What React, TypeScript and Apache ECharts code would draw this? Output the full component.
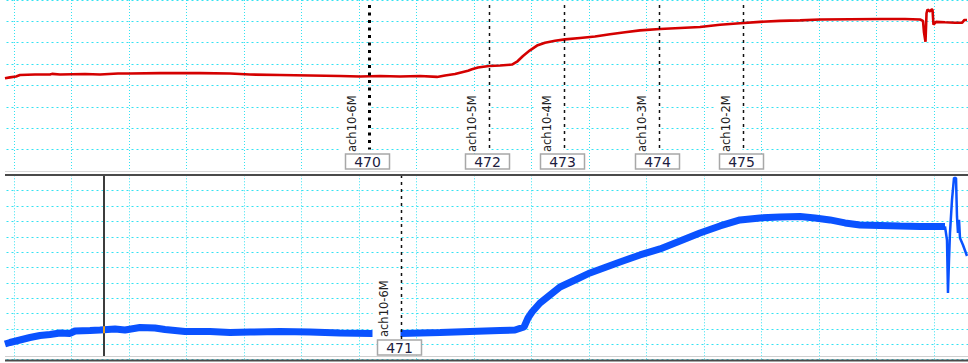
import React, { useEffect, useRef } from "react";
import * as echarts from "echarts";

// ---- data (time in grid units, values in grid units) ----
const redTimes = [
  -0.157, -0.07, 0.035, 0.104, 0.365, 0.626, 0.661, 0.8, 1.235, 1.496, 1.809, 2.017, 2.539, 3.235,
  3.757, 4.104, 4.626, 5.148, 5.67, 6.017, 6.365, 6.713, 7.061, 7.357, 7.496, 7.67, 7.791, 7.896,
  7.965, 8.07, 8.261, 8.452, 8.661, 8.748, 8.852, 8.974, 9.096, 9.235, 9.409, 9.583, 9.843, 10.104,
  10.365, 10.626, 10.887, 11.235, 11.583, 11.93, 12.278, 12.626, 12.974, 13.322, 13.67, 14.017,
  14.539, 15.061, 15.496, 15.757, 15.809, 15.826, 15.852, 15.87, 15.887, 15.93, 15.957, 15.974,
  15.991, 16.035, 16.191, 16.365, 16.487, 16.53, 16.574,
];
const redValues = [
  4.333, 4.378, 4.422, 4.489, 4.511, 4.511, 4.542, 4.511, 4.533, 4.511, 4.556, 4.556, 4.578, 4.578,
  4.556, 4.511, 4.489, 4.467, 4.444, 4.422, 4.444, 4.422, 4.444, 4.4, 4.467, 4.533, 4.622, 4.689,
  4.756, 4.844, 4.911, 4.933, 4.978, 5.111, 5.378, 5.644, 5.867, 6.0, 6.089, 6.156, 6.222, 6.289,
  6.4, 6.489, 6.578, 6.644, 6.689, 6.733, 6.844, 6.911, 6.978, 7.022, 7.044, 7.089,
  7.102, 7.111, 7.111, 7.089, 7.022, 6.489, 6.044, 7.378, 7.556, 7.467, 7.556, 7.556,
  6.844, 6.978, 6.956, 6.933, 6.933, 7.067, 7.067,
];

const blueTimes = [
  -0.157, -0.07, 0.104, 0.278, 0.452, 0.626, 0.8, 0.974, 1.061, 1.322, 1.496, 1.757, 1.93, 2.191,
  2.452, 2.626, 2.974, 3.409, 3.757, 4.104, 4.626, 5.148, 5.67, 6.226, 6.713, 7.061, 7.409, 7.93,
  8.452, 8.713, 8.87, 8.939, 9.009, 9.148, 9.322, 9.496, 9.757, 10.017, 10.278, 10.539, 10.887,
  11.235, 11.583, 11.93, 12.278, 12.626, 12.974, 13.322, 13.67, 13.93, 14.191, 14.452, 14.713,
  15.061, 15.409, 15.757, 16.191,
];
const blueValues = [
  1.022, 1.12, 1.283, 1.445, 1.576, 1.641, 1.738, 1.706, 1.868, 1.901, 1.934, 1.999, 1.934, 2.096,
  2.064, 1.966, 1.836, 1.836, 1.771, 1.803, 1.836, 1.803, 1.738, 1.706, 1.706, 1.738, 1.771, 1.836,
  1.901, 1.934, 2.129, 2.715, 3.105, 3.691, 4.212, 4.733, 5.189, 5.645, 6.003, 6.361, 6.816,
  7.207, 7.728, 8.249, 8.704, 9.095, 9.225, 9.29, 9.323, 9.225, 9.095, 8.9, 8.77,
  8.737, 8.704, 8.672, 8.672,
];
const blueTailTimes = [16.191, 16.226, 16.243, 16.261, 16.278, 16.313, 16.348, 16.383, 16.4, 16.417, 16.435, 16.452, 16.504, 16.574];
const blueTailValues = [8.672, 7.793, 4.342, 6.491, 8.249, 10.397, 11.829, 11.829, 9.29, 8.249, 9.095, 7.923, 7.467, 6.751];

const topMarkerTimes = [6.174, 8.261, 9.57, 11.217, 12.673];
const topMarkerNames = ["ach10-6M", "ach10-5M", "ach10-4M", "ach10-3M", "ach10-2M"];
const topMarkerIds = ["470", "472", "473", "474", "475"];
const bottomMarkerTimes = [6.725];
const bottomMarkerNames = ["ach10-6M"];
const bottomMarkerIds = ["471"];
const cursorTimes = [1.57];
const cursorValues = [1.95];

// ---- styles / layout ----
const CYAN = "#34e2f2";
const RED = "#d40000";
const BLUE = "#0a52ff";
const topMarkerBold = [true, false, false, false, false];
const OFFSET = 44; // chart canvas is shifted left by this many pixels inside a clipping wrapper
const CHART_W = 1036;

type MarkerCfg = {
  names: string[];
  ids: string[];
  bold: boolean[];
  lineTop: number;
  lineBottom: number;
  textBottom: number;
  bgTop: number;
  boxTop: number;
};

function makeMarkerRenderer(cfg: MarkerCfg) {
  return (params: any, api: any) => {
    const i = params.dataIndex;
    const t = api.value(0);
    const x = Math.round(api.coord([t, 0])[0]) + 0.5;
    const bold = cfg.bold[i];
    const boxW = 44;
    const boxH = 15;
    const bx = x - 2 - boxW / 2;
    return {
      type: "group",
      children: [
        {
          type: "rect",
          shape: { x: x - 29, y: cfg.bgTop, width: 28, height: cfg.textBottom - cfg.bgTop + 1 },
          style: { fill: "#ffffff" },
        },
        {
          type: "line",
          shape: { x1: x, y1: cfg.lineTop, x2: x, y2: cfg.lineBottom },
          style: bold
            ? { stroke: "#000", lineWidth: 3, lineDash: [3, 4.5] }
            : { stroke: "#111", lineWidth: 1.5, lineDash: [3, 4] },
        },
        {
          type: "text",
          x: x - 12,
          y: cfg.textBottom,
          rotation: Math.PI / 2,
          style: {
            text: cfg.names[i],
            x: 0,
            y: 0,
            align: "left",
            verticalAlign: "bottom",
            font: '11.5px "DejaVu Sans"',
            fill: "#222",
          },
        },
        {
          type: "rect",
          shape: { x: bx, y: cfg.boxTop, width: boxW, height: boxH },
          style: { fill: "#ffffff", stroke: "#a8a8a8", lineWidth: 1.5 },
        },
        {
          type: "text",
          style: {
            text: cfg.ids[i],
            x: bx + boxW / 2,
            y: cfg.boxTop + boxH / 2 + 0.5,
            align: "center",
            verticalAlign: "middle",
            font: '14px "DejaVu Sans"',
            fill: "#1c1c40",
          },
        },
      ],
    };
  };
}

function cursorRenderer(params: any, api: any) {
  const i = params.dataIndex;
  const p = api.coord([api.value(0), cursorValues[i]]);
  const x = Math.round(p[0]);
  return {
    type: "group",
    children: [
      {
        type: "line",
        shape: { x1: x, y1: 174, x2: x, y2: 356 },
        style: { stroke: "#3c3c3c", lineWidth: 2 },
      },
      {
        type: "rect",
        shape: { x: x - 1, y: p[1] - 3.5, width: 2, height: 7 },
        style: { fill: "#e8a020" },
      },
    ],
  };
}

const axisCommon = {
  type: "value" as const,
  axisLine: { show: false },
  axisTick: { show: false },
  axisLabel: { show: false },
};

export default function App() {
  const ref = useRef<HTMLDivElement>(null);
  useEffect(() => {
    if (!ref.current) return;
    const chart = echarts.init(ref.current, undefined, { renderer: "svg" });
    const pair = (ts: number[], vs: number[]) => ts.map((t, i) => [t, vs[i]]);
    const L = OFFSET + 5; // visible left edge in chart coordinates
    const R = OFFSET + 968;
    chart.setOption({
      animation: false,
      backgroundColor: "#ffffff",
      grid: [
        { left: 0.5, top: -9.1, width: 1035, height: 180 },
        { left: 0.5, top: 175.3, width: 1035, height: 184.4 },
      ],
      xAxis: [0, 1].map((g) => ({
        ...axisCommon,
        gridIndex: g,
        min: -1,
        max: 17,
        interval: 1,
        splitLine: { show: true, lineStyle: { color: CYAN, width: 1, type: [1, 2] } },
      })),
      yAxis: [
        {
          ...axisCommon,
          gridIndex: 0,
          min: 0,
          max: 8,
          interval: 1,
          splitLine: { show: true, lineStyle: { color: CYAN, width: 1, type: [2, 3] } },
        },
        {
          ...axisCommon,
          gridIndex: 1,
          min: 0,
          max: 12,
          interval: 1,
          splitLine: { show: true, lineStyle: { color: CYAN, width: 1, type: [2, 3] } },
        },
      ],
      series: [
        {
          type: "line",
          xAxisIndex: 0,
          yAxisIndex: 0,
          data: pair(redTimes, redValues),
          symbol: "none",
          lineStyle: { color: RED, width: 2.6 },
          z: 3,
        },
        {
          type: "line",
          xAxisIndex: 1,
          yAxisIndex: 1,
          data: pair(blueTimes, blueValues),
          symbol: "none",
          lineStyle: { color: BLUE, width: 7 },
          z: 3,
        },
        {
          type: "line",
          xAxisIndex: 1,
          yAxisIndex: 1,
          data: pair(blueTailTimes, blueTailValues),
          symbol: "none",
          lineStyle: { color: BLUE, width: 2.5 },
          z: 3,
        },
        {
          type: "custom",
          xAxisIndex: 0,
          yAxisIndex: 0,
          data: topMarkerTimes.map((t) => [t, 0]),
          renderItem: makeMarkerRenderer({
            names: topMarkerNames,
            ids: topMarkerIds,
            bold: topMarkerBold,
            lineTop: 5,
            lineBottom: 149.5,
            textBottom: 152,
            bgTop: 93,
            boxTop: 154,
          }),
          z: 5,
        },
        {
          type: "custom",
          xAxisIndex: 1,
          yAxisIndex: 1,
          data: bottomMarkerTimes.map((t) => [t, 0]),
          renderItem: makeMarkerRenderer({
            names: bottomMarkerNames,
            ids: bottomMarkerIds,
            bold: [false],
            lineTop: 175,
            lineBottom: 339,
            textBottom: 337,
            bgTop: 278,
            boxTop: 340,
          }),
          z: 5,
        },
        {
          type: "custom",
          xAxisIndex: 1,
          yAxisIndex: 1,
          data: cursorTimes.map((t) => [t, 0]),
          renderItem: cursorRenderer,
          z: 6,
        },
      ],
      graphic: [
        { type: "rect", z: 1, shape: { x: 0, y: 0, width: L, height: 363 }, style: { fill: "#fff" } },
        { type: "line", z: 20, shape: { x1: L, y1: 171.5, x2: R, y2: 171.5 }, style: { stroke: "#d8d8d8", lineWidth: 1 } },
        { type: "line", z: 20, shape: { x1: L, y1: 175, x2: R, y2: 175 }, style: { stroke: "#4a4a4a", lineWidth: 2 } },
        { type: "line", z: 20, shape: { x1: L, y1: 356.5, x2: R, y2: 356.5 }, style: { stroke: "#d0d0d0", lineWidth: 1 } },
        { type: "line", z: 20, shape: { x1: L, y1: 360.5, x2: R, y2: 360.5 }, style: { stroke: "#4a4a4a", lineWidth: 2 } },
      ],
    });
    return () => chart.dispose();
  }, []);
  return (
    <div
      style={{
        position: "absolute",
        left: 0,
        top: 0,
        width: 968,
        height: 363,
        overflow: "hidden",
        background: "#fff",
      }}
    >
      <div
        ref={ref}
        style={{ position: "absolute", left: -OFFSET, top: 0, width: CHART_W, height: 363 }}
      />
    </div>
  );
}
